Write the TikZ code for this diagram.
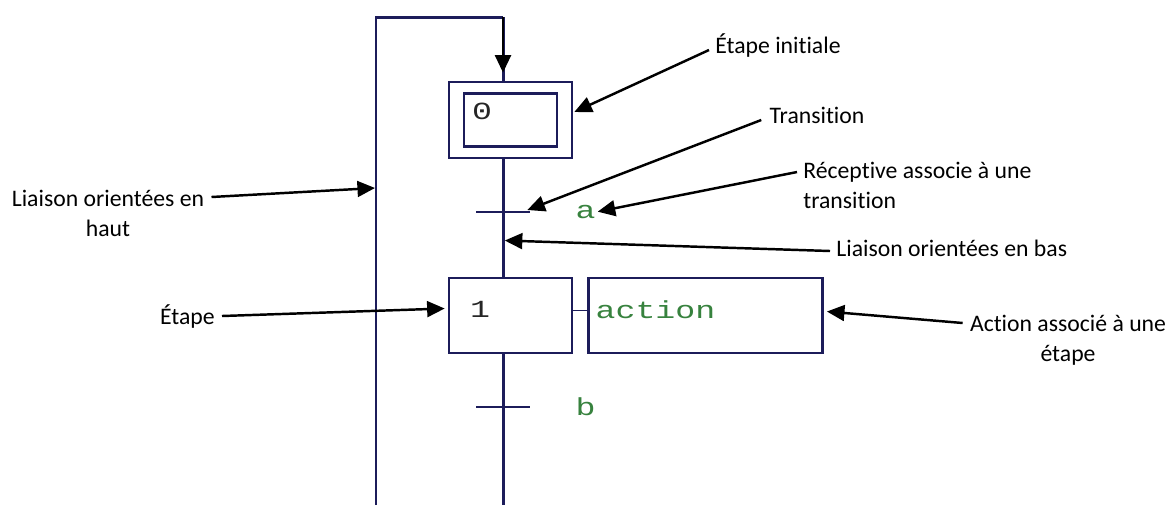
\documentclass[tikz,border=0pt]{standalone}
\usepackage{fontspec}
\setmainfont{Carlito}[Ligatures=NoCommon]
\newfontfamily\grafcetfont{Liberation Mono}
\usetikzlibrary{arrows.meta,positioning,calc}

\definecolor{navy}{RGB}{28,28,90}
\definecolor{recgreen}{RGB}{55,130,62}
\newcommand{\grafcettxt}[1]{\scalebox{1.35}[1]{#1}}

\begin{document}
\begin{tikzpicture}[x=0.02cm,y=-0.02cm,
  lien/.style={draw=navy,line width=1.7pt},
  etape/.style={draw=navy,line width=1.5pt,minimum width=2.46cm,minimum height=1.5cm,inner sep=0pt},
  trans/.style={fill=navy,minimum width=1.08cm,minimum height=1.1pt,inner sep=0pt},
  num/.style={font=\grafcetfont\fontsize{14}{14}\selectfont,text=black!85,inner sep=0pt},
  recep/.style={font=\grafcetfont\fontsize{14}{14}\selectfont,text=recgreen,inner sep=0pt},
  note/.style={font=\fontsize{13.5}{17}\selectfont,align=center,inner sep=0pt},
  fleche/.style={draw=black,line width=1.4pt,-{Triangle[length=10pt,width=9pt]}}]
\useasboundingbox (0,0) rectangle (1169,505);

% grafcet
\node[etape,minimum height=1.52cm] (s0) at (510.5,120) {};
\node[draw=navy,line width=1.5pt,minimum width=1.86cm,minimum height=1.06cm,inner sep=0pt] (s0in) at (s0.center) {};
\node[num,anchor=west] (n0) at ($(s0.north west)+(24,31)$) {\grafcettxt{0}};
\node[trans] (t1) at (503,212) {};
\node[etape] (s1) at (510.5,315.5) {};
\node[num,anchor=west] (n1) at ($(s1.north west)+(22,33)$) {\grafcettxt{1}};
\node[etape,minimum width=4.68cm,right=0.28cm of s1] (act) {};
\node[recep,anchor=west] (txt) at ($(act.west)+(8,-6)$) {\grafcettxt{action}};
\node[trans] (t2) at (503,407) {};
\node[recep,right=0.9cm of t1] (ra) {\grafcettxt{a}};
\node[recep,right=0.9cm of t2] (rb) {\grafcettxt{b}};

\coordinate (hg) at (376,17);
\coordinate (hd) at (503,17);
\coordinate (bg) at (376,505);
\coordinate (bd) at (503,505);
\coordinate (lh) at (375,188);

\draw[lien] (bg) -- (hg) -- (hd);
\draw[lien] (hd) -- (hd |- s0.north);
\draw[fleche,line width=1.6pt,shorten >=0.16cm] (hd) -- (hd |- s0.north);
\draw[lien] (hd |- s0.south) -- (t1.center) -- (hd |- s1.north);
\draw[lien] (hd |- s1.south) -- (t2.center) -- (bd);
\draw[draw=navy,line width=1pt] ($(s1.east)+(0,-5)$) -- ($(act.west)+(0,-5)$);

% annotations
\node[note] (nei) at (778,46) {Étape initiale};
\node[note] (ntr) at (817,115) {Transition};
\node[note,align=left,anchor=west] (nrc) at (803,185) {Réceptive associe à une\\transition};
\node[note,anchor=west] (nlb) at (836,248) {Liaison orientées en bas};
\node[note] (nac) at (1068,340) {Action associé à une\\étape};
\node[note] (nlh) at (108,213) {Liaison orientées en\\haut};
\node[note,anchor=east] (net) at (215,316) {Étape};

\draw[fleche] ($(nei.west)+(-6,4)$) -- ($(s0.east)+(1,-8)$);
\draw[fleche] ($(ntr.west)+(-8,5)$) -- ($(t1.east)+(-3,-2)$);
\draw[fleche,shorten >=1pt] ($(nrc.west)+(-6,-13)$) -- (ra.east);
\draw[fleche,shorten >=1pt] ($(nlb.west)+(-6,3)$) -- ($(t1)!0.44!(hd |- s1.north)$);
\draw[fleche] ($(nac.west)+(-7,-17)$) -- ($(act.east)+(3,-4)$);
\draw[fleche] ($(nlh.east)+(7,-16)$) -- (lh);
\draw[fleche] ($(net.east)+(7,0)$) -- ($(s1.west)+(-3,-7)$);
\end{tikzpicture}
\end{document}
